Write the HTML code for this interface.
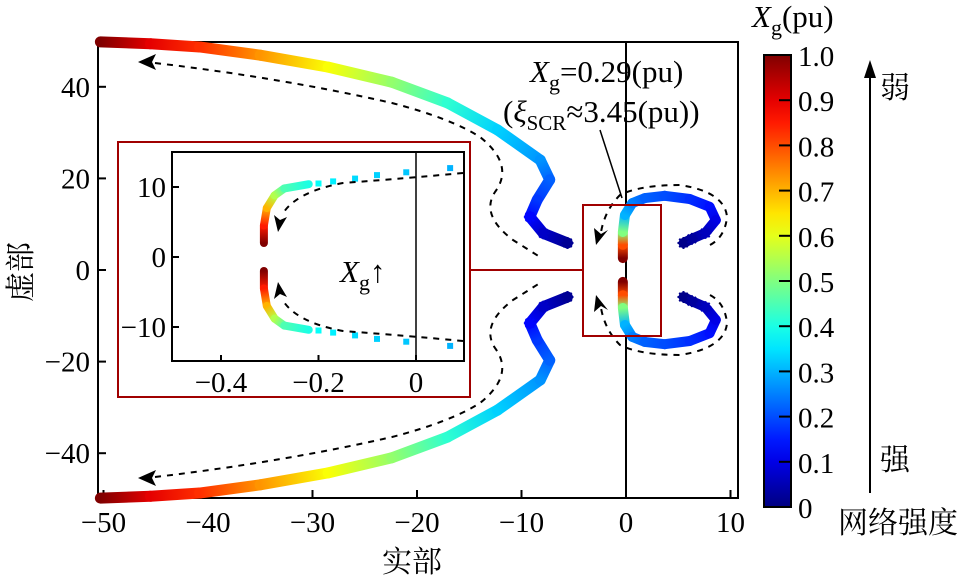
<!DOCTYPE html>
<html><head><meta charset="utf-8">
<style>
html,body{margin:0;padding:0;background:#fff;}
svg{display:block;font-family:"Liberation Serif","Noto Serif CJK SC","Noto Sans CJK SC",serif;}
</style></head>
<body>
<svg id="chart" width="973" height="581" viewBox="0 0 973 581" xmlns="http://www.w3.org/2000/svg">
<defs id="defs"></defs>
<g id="main"></g>
<g id="inset"></g>
<g id="cbar"></g>
</svg>
<script>
// ---- data ----
// left (far) branch, upper half: real part, imaginary part, Xg
const leftReal = [-50.3,-45.5,-40.8,-35,-28.5,-22.4,-17.1,-12.3,-8.2,-7.3,-8.5,-9.2,-7.9,-5.6];
const leftImag = [49.8,49.4,48.7,46.9,44.3,41,36.5,30.6,24,19.7,15.3,11.6,8,5.9];
const leftXg   = [1.0,0.9,0.83,0.73,0.62,0.52,0.42,0.33,0.27,0.22,0.18,0.13,0.07,0.02];
// right (near) branch, upper half
const rightReal = [-0.3,-0.3,-0.3,-0.1,0.6,1.8,3.7,6.1,8.0,8.6,7.6,6.3,5.5];
const rightImag = [2.6,5.5,8.3,12,14.6,15.7,16.2,15.5,13.8,10.9,8.1,6.8,5.9];
const rightXg   = [1.0,0.8,0.5,0.3,0.25,0.22,0.2,0.17,0.14,0.1,0.06,0.03,0.01];
// inset (zoom) branch, upper half
const insetReal = [-0.312,-0.312,-0.306,-0.29,-0.27,-0.22];
const insetImag = [2,4.5,7,8.8,9.8,10.4];
const insetXg   = [1.0,0.85,0.7,0.55,0.45,0.4];
const insetDotReal = [-0.2,-0.17,-0.125,-0.08,-0.02,0.07];
const insetDotImag = [10.5,10.8,11.2,11.7,12.1,12.7];
const insetDotXg   = [0.38,0.36,0.34,0.33,0.32,0.3];
// ticks
const xTicks = [-50,-40,-30,-20,-10,0,10];
const yTicks = [-40,-20,0,20,40];
const insetXTicks = [-0.4,-0.2,0];
const insetYTicks = [-10,0,10];
const cbarTicks = [0,0.1,0.2,0.3,0.4,0.5,0.6,0.7,0.8,0.9,1.0];
const cbarLabels = ["0","0.1","0.2","0.3","0.4","0.5","0.6","0.7","0.8","0.9","1.0"];

const NS="http://www.w3.org/2000/svg";
function mk(tag,attrs,parent){const e=document.createElementNS(NS,tag);for(const k in attrs)e.setAttribute(k,attrs[k]);parent.appendChild(e);return e;}
function jet(v){v=Math.max(0,Math.min(1,v));
  const f=t=>Math.max(0,Math.min(1,t));
  const r=f(1.5-Math.abs(4*v-3)),g=f(1.5-Math.abs(4*v-2)),b=f(1.5-Math.abs(4*v-1));
  return `rgb(${Math.round(r*255)},${Math.round(g*255)},${Math.round(b*255)})`;}
// ---- axes ----
const X=x=>626+10.45*x, Y=y=>270-4.58*y;
const IX=x=>416+487.5*x, IY=y=>257-7*y;
const CY=v=>507-452*v;

const main=document.getElementById('main'), inset=document.getElementById('inset'), cbar=document.getElementById('cbar'), defs=document.getElementById('defs');
let gid=0;
function branch(parent,xs,ys,cs,sx,sy,sign,width,name){
  const g=mk('g',{},parent);
  
  
  for(let i=0;i<xs.length-1;i++){
    const x1=sx(xs[i]),y1=sy(sign*ys[i]),x2=sx(xs[i+1]),y2=sy(sign*ys[i+1]);
    const id='gr'+(gid++);
    const lg=mk('linearGradient',{id:id,gradientUnits:'userSpaceOnUse',x1:x1,y1:y1,x2:x2,y2:y2},defs);
    mk('stop',{offset:'0','stop-color':jet(cs[i])},lg);
    mk('stop',{offset:'1','stop-color':jet(cs[i+1])},lg);
    const s=mk('line',{x1:x1,y1:y1,x2:x2,y2:y2,stroke:`url(#${id})`,'stroke-width':width,'stroke-linecap':'round'},g);
    
    
  }
  return g;
}
function star(parent,cx,cy,r,col){
  const g=mk('g',{stroke:col,'stroke-width':2},parent);
  
  
  for(let a=0;a<4;a++){const t=a*Math.PI/4;mk('line',{x1:cx-r*Math.cos(t),y1:cy-r*Math.sin(t),x2:cx+r*Math.cos(t),y2:cy+r*Math.sin(t)},g);}
}
// main frame
const frame=mk('rect',{x:98,y:42,width:640,height:456,fill:'none',stroke:'#000','stroke-width':2},main);

const vz=mk('line',{x1:X(0),y1:42,x2:X(0),y2:498,stroke:'#000','stroke-width':2},main);

xTicks.forEach((t,i)=>{
  mk('line',{x1:X(t),y1:498,x2:X(t),y2:490,stroke:'#000','stroke-width':2},main);
  const tx=mk('text',{x:X(t),y:532,'font-size':29,'text-anchor':'middle'},main);
  tx.textContent=(t<0?'\u2212'+(-t):t);
  
});
yTicks.forEach(t=>{
  mk('line',{x1:98,y1:Y(t),x2:106,y2:Y(t),stroke:'#000','stroke-width':2},main);
  const tx=mk('text',{x:90,y:Y(t)+10,'font-size':29,'text-anchor':'end'},main);
  tx.textContent=(t<0?'\u2212'+(-t):t);
  
});
// branches
[1,-1].forEach(s=>{
  branch(main,leftReal,leftImag,leftXg,X,Y,s,11,s>0?'upper-far-branch':'lower-far-branch');
  branch(main,rightReal,rightImag,rightXg,X,Y,s,10,s>0?'upper-near-branch':'lower-near-branch');
  const nl=leftReal.length, nr=rightReal.length;
  for(let k=1;k<=3;k++){star(main,X(leftReal[nl-k]),Y(s*leftImag[nl-k]),6,jet(leftXg[nl-k]));star(main,X(rightReal[nr-k]),Y(s*rightImag[nr-k]),6,jet(rightXg[nr-k]));}
});
// dashed annotation paths
const dash={fill:'none',stroke:'#000','stroke-width':2,'stroke-dasharray':'6,6'};
function dpath(d,name,par){const p=mk('path',Object.assign({d:d},dash),par||main);}
function ahead(pts,name,par){const p=mk('polygon',{points:pts,fill:'#000'},par||main);}
dpath('M155,63 Q282,78 392,103 Q450,118 480,137 Q515,165 495,192 Q480,215 513,240 L540,257','upper-far-arrow-path');
dpath('M155,477 Q282,462 392,437 Q450,422 480,403 Q515,375 495,348 Q480,325 513,300 L540,283','lower-far-arrow-path');
ahead('138,62 156,54 152,62 156,70','upper-far-arrowhead');
ahead('138,478 156,470 152,478 156,486','lower-far-arrowhead');
dpath('M710,245 Q725,237 727,217 Q725,192 680,185 Q640,185 620,195 Q605,210 601,232','upper-near-arrow-path');
dpath('M710,295 Q725,303 727,323 Q725,348 680,355 Q640,355 620,345 Q605,330 601,308','lower-near-arrow-path');
ahead('596,245 594,228 601,234 608,230','upper-near-arrowhead');
ahead('596,295 594,312 601,306 608,310','lower-near-arrowhead');
// zoom box & connector
const zb=mk('rect',{x:583,y:205,width:78,height:131,fill:'none',stroke:'#a00000','stroke-width':2},main);

const cl=mk('line',{x1:470,y1:270,x2:583,y2:270,stroke:'#a00000','stroke-width':2},main);

const pl=mk('line',{x1:600,y1:130,x2:622,y2:198,stroke:'#000','stroke-width':1.5},main);

const a1=mk('text',{x:530,y:82,'font-size':31},main);
a1.innerHTML='<tspan font-style="italic">X</tspan><tspan font-size="22" dy="8">g</tspan><tspan dy="-8">=0.29(pu)</tspan>';

const a2=mk('text',{x:503,y:122,'font-size':31},main);
a2.innerHTML='(<tspan font-style="italic">ξ</tspan><tspan font-size="21" dy="8">SCR</tspan><tspan dy="-8">≈3.45(pu))</tspan>';

const xl=mk('text',{x:412,y:572,'font-size':30,'text-anchor':'middle'},main);xl.textContent='实部';

const yl=mk('text',{x:0,y:0,'font-size':30,'text-anchor':'middle',transform:'translate(31,272) rotate(-90)'},main);yl.textContent='虚部';

// ---- inset ----
const ob=mk('rect',{x:118,y:142,width:352,height:255,fill:'#fff',stroke:'#a00000','stroke-width':2},inset);

const ib=mk('rect',{x:172,y:152,width:292,height:209,fill:'none',stroke:'#000','stroke-width':2},inset);

mk('line',{x1:IX(0),y1:152,x2:IX(0),y2:361,stroke:'#000','stroke-width':1.5},inset);
insetXTicks.forEach(t=>{
  mk('line',{x1:IX(t),y1:361,x2:IX(t),y2:355,stroke:'#000','stroke-width':2},inset);
  const tx=mk('text',{x:IX(t),y:392,'font-size':29,'text-anchor':'middle'},inset);
  tx.textContent=(t<0?'\u2212'+(-t):t);
  
});
insetYTicks.forEach(t=>{
  mk('line',{x1:172,y1:IY(t),x2:179,y2:IY(t),stroke:'#000','stroke-width':2},inset);
  const tx=mk('text',{x:166,y:IY(t)+10,'font-size':29,'text-anchor':'end'},inset);
  tx.textContent=(t<0?'\u2212'+(-t):t);
  
});
[1,-1].forEach(s=>{
  branch(inset,insetReal,insetImag,insetXg,IX,IY,s,8,s>0?'inset-upper-branch':'inset-lower-branch');
  insetDotReal.forEach((x,i)=>{
    const d=mk('rect',{x:IX(x)-3,y:IY(s*insetDotImag[i])-3,width:6,height:6,fill:jet(insetDotXg[i])},inset);
    
  });
});
dpath('M463,173 Q410,178 343,183 Q295,192 282,215','inset-upper-arrow-path',inset);
dpath('M463,341 Q410,336 343,331 Q295,322 282,299','inset-lower-arrow-path',inset);
ahead('278,232 274,215 280,220 287,217','inset-upper-arrowhead',inset);
ahead('278,282 274,299 280,294 287,297','inset-lower-arrowhead',inset);
const xa=mk('text',{x:340,y:282,'font-size':31},inset);
xa.innerHTML='<tspan font-style="italic">X</tspan><tspan font-size="22" dy="8">g</tspan><tspan dy="-8">↑</tspan>';

// ---- colorbar ----
const cg=mk('linearGradient',{id:'cbg',x1:0,y1:1,x2:0,y2:0},defs);
for(let i=0;i<=20;i++){mk('stop',{offset:i/20,'stop-color':jet(i/20)},cg);}
const cr=mk('rect',{x:764,y:CY(1),width:27,height:CY(0)-CY(1),fill:'url(#cbg)',stroke:'#000','stroke-width':2},cbar);

cbarTicks.forEach((t,i)=>{
  if(t>0&&t<1) mk('line',{x1:779,y1:CY(t),x2:791,y2:CY(t),stroke:'#000','stroke-width':2},cbar);
  const tx=mk('text',{x:798,y:CY(t)+11,'font-size':29},cbar);
  tx.textContent=cbarLabels[i];
  
});
const ct=mk('text',{x:752,y:27,'font-size':31},cbar);
ct.innerHTML='<tspan font-style="italic">X</tspan><tspan font-size="22" dy="8">g</tspan><tspan dy="-8">(pu)</tspan>';

mk('line',{x1:870,y1:493,x2:870,y2:72,stroke:'#000','stroke-width':2},cbar);
ahead('870,60 864,78 876,78','strength-arrowhead',cbar);
const w1=mk('text',{x:880,y:98,'font-size':30},cbar);w1.textContent='弱';

const w2=mk('text',{x:880,y:470,'font-size':30},cbar);w2.textContent='强';

const w3=mk('text',{x:838,y:533,'font-size':30},cbar);w3.textContent='网络强度';

</script>
</body></html>
